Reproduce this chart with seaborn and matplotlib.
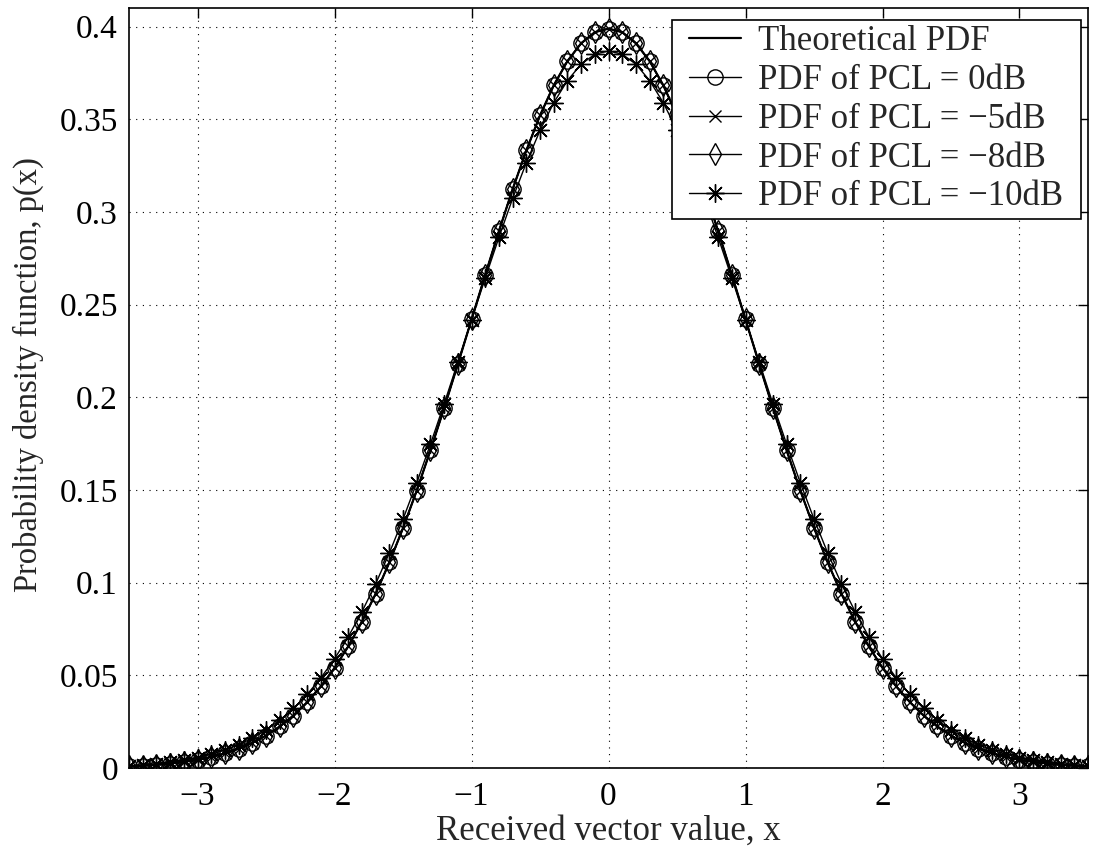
import numpy as np
import pandas as pd
import matplotlib
matplotlib.use("Agg")
import matplotlib.pyplot as plt
from matplotlib.path import Path
import seaborn as sns

# ---- data ----
x_vals = [-3.5, -3.4, -3.3, -3.2, -3.1, -3.0, -2.9, -2.8, -2.7, -2.6, -2.5, -2.4,
          -2.3, -2.2, -2.1, -2.0, -1.9, -1.8, -1.7, -1.6, -1.5, -1.4, -1.3, -1.2,
          -1.1, -1.0, -0.9, -0.8, -0.7, -0.6, -0.5, -0.4, -0.3, -0.2, -0.1, 0.0,
          0.1, 0.2, 0.3, 0.4, 0.5, 0.6, 0.7, 0.8, 0.9, 1.0, 1.1, 1.2,
          1.3, 1.4, 1.5, 1.6, 1.7, 1.8, 1.9, 2.0, 2.1, 2.2, 2.3, 2.4,
          2.5, 2.6, 2.7, 2.8, 2.9, 3.0, 3.1, 3.2, 3.3, 3.4, 3.5]

theoretical = [0.0009, 0.0012, 0.0017, 0.0024, 0.0033, 0.0044, 0.0060, 0.0079, 0.0104, 0.0136,
               0.0175, 0.0224, 0.0283, 0.0355, 0.0440, 0.0540, 0.0656, 0.0790, 0.0940, 0.1109,
               0.1295, 0.1497, 0.1714, 0.1942, 0.2179, 0.2420, 0.2661, 0.2897, 0.3123, 0.3332,
               0.3521, 0.3683, 0.3814, 0.3910, 0.3970, 0.3989,
               0.3970, 0.3910, 0.3814, 0.3683, 0.3521, 0.3332, 0.3123, 0.2897, 0.2661, 0.2420,
               0.2179, 0.1942, 0.1714, 0.1497, 0.1295, 0.1109, 0.0940, 0.0790, 0.0656, 0.0540,
               0.0440, 0.0355, 0.0283, 0.0224, 0.0175, 0.0136, 0.0104, 0.0079, 0.0060, 0.0044,
               0.0033, 0.0024, 0.0017, 0.0012, 0.0009]

pcl_0db = [0.0009, 0.0012, 0.0017, 0.0024, 0.0033, 0.0044, 0.0060, 0.0079, 0.0104, 0.0136,
           0.0175, 0.0224, 0.0283, 0.0355, 0.0440, 0.0540, 0.0656, 0.0790, 0.0940, 0.1109,
           0.1295, 0.1497, 0.1714, 0.1942, 0.2179, 0.2420, 0.2661, 0.2897, 0.3123, 0.3332,
           0.3521, 0.3683, 0.3814, 0.3910, 0.3970, 0.3989,
           0.3970, 0.3910, 0.3814, 0.3683, 0.3521, 0.3332, 0.3123, 0.2897, 0.2661, 0.2420,
           0.2179, 0.1942, 0.1714, 0.1497, 0.1295, 0.1109, 0.0940, 0.0790, 0.0656, 0.0540,
           0.0440, 0.0355, 0.0283, 0.0224, 0.0175, 0.0136, 0.0104, 0.0079, 0.0060, 0.0044,
           0.0033, 0.0024, 0.0017, 0.0012, 0.0009]

pcl_m5db = [0.0009, 0.0012, 0.0017, 0.0024, 0.0033, 0.0044, 0.0060, 0.0079, 0.0104, 0.0136,
            0.0175, 0.0224, 0.0283, 0.0355, 0.0440, 0.0540, 0.0656, 0.0790, 0.0940, 0.1109,
            0.1295, 0.1497, 0.1714, 0.1942, 0.2179, 0.2420, 0.2661, 0.2897, 0.3123, 0.3332,
            0.3521, 0.3683, 0.3814, 0.3910, 0.3970, 0.3989,
            0.3970, 0.3910, 0.3814, 0.3683, 0.3521, 0.3332, 0.3123, 0.2897, 0.2661, 0.2420,
            0.2179, 0.1942, 0.1714, 0.1497, 0.1295, 0.1109, 0.0940, 0.0790, 0.0656, 0.0540,
            0.0440, 0.0355, 0.0283, 0.0224, 0.0175, 0.0136, 0.0104, 0.0079, 0.0060, 0.0044,
            0.0033, 0.0024, 0.0017, 0.0012, 0.0009]

pcl_m8db = [0.0009, 0.0012, 0.0017, 0.0024, 0.0033, 0.0044, 0.0060, 0.0079, 0.0104, 0.0136,
            0.0175, 0.0224, 0.0283, 0.0355, 0.0440, 0.0540, 0.0656, 0.0790, 0.0940, 0.1109,
            0.1295, 0.1497, 0.1714, 0.1942, 0.2179, 0.2420, 0.2661, 0.2897, 0.3123, 0.3332,
            0.3521, 0.3683, 0.3814, 0.3910, 0.3970, 0.3989,
            0.3970, 0.3910, 0.3814, 0.3683, 0.3521, 0.3332, 0.3123, 0.2897, 0.2661, 0.2420,
            0.2179, 0.1942, 0.1714, 0.1497, 0.1295, 0.1109, 0.0940, 0.0790, 0.0656, 0.0540,
            0.0440, 0.0355, 0.0283, 0.0224, 0.0175, 0.0136, 0.0104, 0.0079, 0.0060, 0.0044,
            0.0033, 0.0024, 0.0017, 0.0012, 0.0009]

pcl_m10db = [0.0012, 0.0017, 0.0023, 0.0031, 0.0042, 0.0056, 0.0074, 0.0097, 0.0125, 0.0161,
             0.0205, 0.0258, 0.0321, 0.0397, 0.0486, 0.0589, 0.0708, 0.0843, 0.0994, 0.1160,
             0.1343, 0.1539, 0.1747, 0.1965, 0.2190, 0.2417, 0.2643, 0.2863, 0.3073, 0.3266,
             0.3440, 0.3589, 0.3709, 0.3797, 0.3851, 0.3869,
             0.3851, 0.3797, 0.3709, 0.3589, 0.3440, 0.3266, 0.3073, 0.2863, 0.2643, 0.2417,
             0.2190, 0.1965, 0.1747, 0.1539, 0.1343, 0.1160, 0.0994, 0.0843, 0.0708, 0.0589,
             0.0486, 0.0397, 0.0321, 0.0258, 0.0205, 0.0161, 0.0125, 0.0097, 0.0074, 0.0056,
             0.0042, 0.0031, 0.0023, 0.0017, 0.0012]

series_labels = ["Theoretical PDF", "PDF of PCL = 0dB", "PDF of PCL = \u22125dB",
                 "PDF of PCL = \u22128dB", "PDF of PCL = \u221210dB"]
x_ticks = [-3, -2, -1, 0, 1, 2, 3]
x_ticklabels = ["\u22123", "\u22122", "\u22121", "0", "1", "2", "3"]
y_ticks = [0, 0.05, 0.1, 0.15, 0.2, 0.25, 0.3, 0.35, 0.4]
y_ticklabels = ["0", "0.05", "0.1", "0.15", "0.2", "0.25", "0.3", "0.35", "0.4"]

# ---- styling ----
sns.set_style("white")
plt.rcParams["font.family"] = ["Liberation Serif", "DejaVu Serif"]

fig = plt.figure(figsize=(10.94, 8.5), dpi=100)
ax = fig.add_axes([0.118, 0.0965, 0.8765, 0.894])

series = [theoretical, pcl_0db, pcl_m5db, pcl_m8db, pcl_m10db]
markers = [None, "o", "x", "d", (8, 2, 0)]
msizes = [0, 11, 8, 11, 13]

for vals, lab, mk, ms in zip(series, series_labels, markers, msizes):
    df = pd.DataFrame({"x": x_vals, "y": vals})
    kw = dict(color="black", linewidth=1.0)
    if mk is None:
        kw["linewidth"] = 1.6
    else:
        kw.update(marker=mk, markersize=ms, markerfacecolor="none",
                  markeredgecolor="black", markeredgewidth=1.0)
    sns.lineplot(data=df, x="x", y="y", ax=ax, label=lab, **kw)

ax.set_xlim(-3.5, 3.5)
ax.set_ylim(0, 0.41)
ax.set_xticks(x_ticks)
ax.set_xticklabels(x_ticklabels)
ax.set_yticks(y_ticks)
ax.set_yticklabels(y_ticklabels)
ax.tick_params(axis="both", direction="in", length=7, width=1.0, labelsize=24,
               top=True, right=True, colors="black")
ax.tick_params(axis="x", pad=10)
ax.tick_params(axis="y", pad=8)
ax.grid(True, linestyle=(0, (1, 5)), color="black", linewidth=0.8)
for sp in ax.spines.values():
    sp.set_color("black")
    sp.set_linewidth(1.2)

ax.set_xlabel("Received vector value, x", fontsize=25, labelpad=2)
ax.set_ylabel("Probability density function, p(x)", fontsize=23.5)
ax.yaxis.set_label_coords(-0.089, 0.518)


def hpad_box(x0, y0, width, height, mutation_size):
    px = 0.35 * mutation_size
    xs = [x0 - px, x0 + width + px, x0 + width + px, x0 - px, x0 - px]
    ys = [y0, y0, y0 + height, y0 + height, y0]
    return Path(list(zip(xs, ys)), closed=True)


leg = ax.legend(loc="upper right", bbox_to_anchor=(0.980, 0.984), fontsize=25,
                frameon=True, fancybox=False, edgecolor="black", framealpha=1,
                handlelength=1.5, handletextpad=0.5, borderaxespad=0,
                labelspacing=0.165, borderpad=0.15)
leg.get_frame().set_linewidth(1.2)
leg.get_frame().set_boxstyle(hpad_box)

fig.savefig("out.png", dpi=100)
